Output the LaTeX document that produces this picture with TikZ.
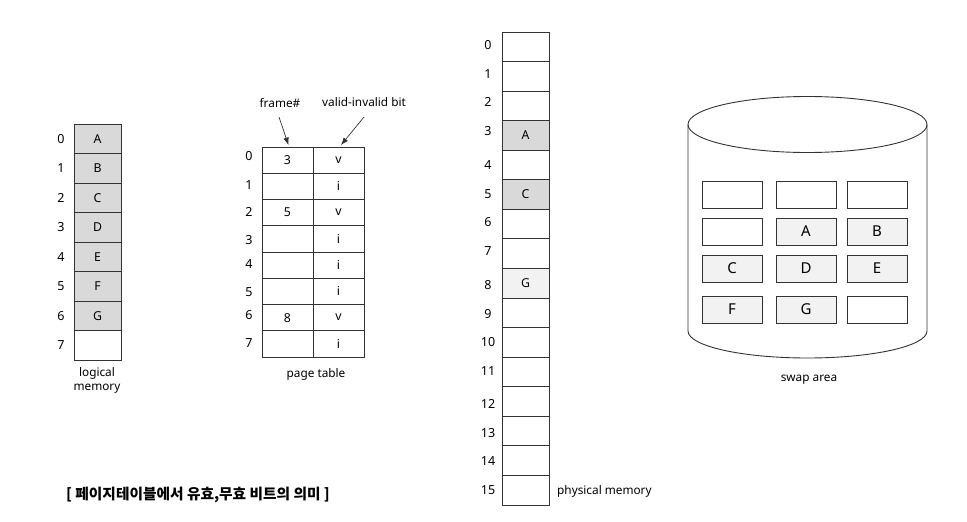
\documentclass[tikz,border=0pt]{standalone}
\usepackage{fontspec}
\setmainfont{Noto Sans}
\newfontfamily\krfont{Noto Sans CJK KR}
\usetikzlibrary{arrows.meta}
\definecolor{cellgray}{HTML}{D9D9D9}
\definecolor{lightgray}{HTML}{F2F2F2}
\definecolor{linegray}{HTML}{333333}
\begin{document}
\begin{tikzpicture}[x=1pt,y=-1pt,
  txt/.style={font=\fontsize{11.8}{14}\selectfont, inner sep=0pt},
  idx/.style={font=\fontsize{12.5}{14}\selectfont, inner sep=0pt},
  memcell/.style={draw=linegray, line width=0.9pt, minimum width=47pt, minimum height=29.5pt, inner sep=0pt, font=\fontsize{12.3}{14}\selectfont},
  ptcell/.style={draw=linegray, line width=0.9pt, minimum width=51pt, minimum height=26.25pt, inner sep=0pt, font=\fontsize{12.3}{14}\selectfont},
  swapbox/.style={draw=linegray, line width=0.9pt, minimum width=60pt, minimum height=27pt, inner sep=0pt, font=\fontsize{15}{17}\selectfont},
  arr/.style={-{Latex[length=7.5pt,width=5.5pt]}, line width=0.7pt, draw=linegray}]
\useasboundingbox (0,0) rectangle (967,522);

% logical memory
\foreach \i/\t in {0/A,1/B,2/C,3/D,4/E,5/F,6/G}{
  \node[memcell, fill=cellgray] (lm\i) at (97.5,{124+29.5*(\i+0.5)}) {\t};
  \node[idx] (lmi\i) at (61,{124+29.5*(\i+0.5)}) {\i};
}
\node[memcell] (lm7) at (97.5,{124+29.5*7.5}) {};
\node[idx] (lmi7) at (61,{124+29.5*7.5}) {7};
\node[txt, align=center, font=\fontsize{11.8}{14}\selectfont] (lmlab) at (97,380) {logical\\memory};

% page table
\foreach \i/\f/\v/\yy in {0/3/v/156,1//i/185,2/5/v/212,3//i/240,4//i/264,5//i/292,6/8/v/315,7//i/343}{
  \node[ptcell] (pf\i) at (287.5,{147+26.25*(\i+0.5)}) {\f};
  \node[ptcell] (pv\i) at (338.5,{147+26.25*(\i+0.5)}) {\v};
  \node[idx] (pti\i) at (249,\yy) {\i};
}
\node[txt] (ptlab) at (316,374) {page table};
\node[txt] (frlab) at (280,103) {frame\#};
\node[txt] (vilab) at (364,102) {valid-invalid bit};
\coordinate (frs) at (279,117);
\coordinate (vis) at (364,117);
\draw[arr] (frs) -- ([xshift=1pt,yshift=1.5pt]pf0.north);
\draw[arr] (vis) -- ([xshift=2.5pt,yshift=1.5pt]pv0.north);

% physical memory
\foreach \i/\yy in {0/45,1/74,2/102,3/131,4/165,5/194,6/222,7/251,8/285,9/314,10/342,11/371,12/404,13/433,14/461,15/490}{
  \node[memcell, minimum height=29.56pt] (pm\i) at (525.5,{32+29.56*(\i+0.5)}) {};
  \node[idx] (pmi\i) at (488,\yy) {\i};
}
\node[memcell, minimum height=29.56pt, fill=cellgray] at (pm3) {A};
\node[memcell, minimum height=29.56pt, fill=cellgray] at (pm5) {C};
\node[memcell, minimum height=29.56pt, fill=lightgray] at (pm8) {G};
\node[txt, anchor=west] (pmlab) at (557,491) {physical memory};

% swap area
\draw[linegray, line width=0.9pt] (807.5,124.5) ellipse [x radius=119.5pt, y radius=28pt];
\draw[linegray, line width=0.9pt] (688,124.5) -- (688,331) arc[start angle=180, end angle=360, x radius=119.5pt, y radius=27pt] -- (927,124.5);
\foreach \c/\xx in {1/732,2/806,3/877}{
  \foreach \r/\yy in {1/194.5,2/231.5,3/268.5,4/309.5}{
    \node[swapbox] (sw\r\c) at (\xx,\yy) {};
  }
}
\node[swapbox, fill=lightgray] at (sw22) {A};
\node[swapbox, fill=lightgray] at (sw23) {B};
\node[swapbox, fill=lightgray] at (sw31) {C};
\node[swapbox, fill=lightgray] at (sw32) {D};
\node[swapbox, fill=lightgray] at (sw33) {E};
\node[swapbox, fill=lightgray] at (sw41) {F};
\node[swapbox, fill=lightgray] at (sw42) {G};
\node[txt] (swlab) at (809,380) {swap area};

% caption
\node[anchor=west, inner sep=0pt, font=\krfont\bfseries\fontsize{14.7}{17}\selectfont] (cap) at (66,495) {[ 페이지테이블에서 유효,무효 비트의 의미 ]};
\end{tikzpicture}
\end{document}
